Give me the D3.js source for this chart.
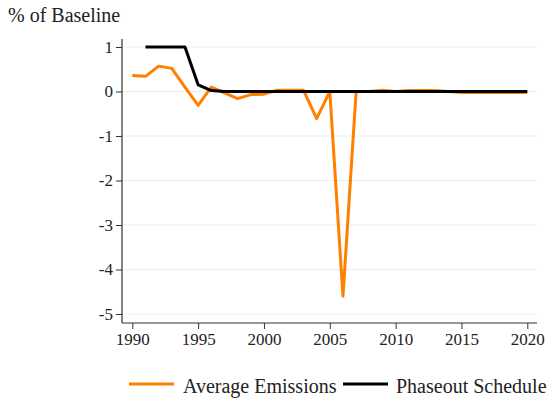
<!DOCTYPE html>
<html>
<head>
<meta charset="utf-8">
<script src="https://cdn.jsdelivr.net/npm/d3@7"></script>
</head>
<body style="margin:0;background:#fff">
<svg id="chart" width="553" height="403" font-family="'Liberation Serif', 'Times New Roman', serif"></svg>
<script>
// Years and series values (% of baseline)
const emissionYears = d3.range(1990, 2021);
const emissionValues = [
  0.36, 0.34, 0.57, 0.52, 0.10, -0.31, 0.10, -0.03, -0.16, -0.07,
  -0.06, 0.03, 0.03, 0.03, -0.61, 0.00, -4.60, 0.00, 0.00, 0.03,
  0.00, 0.02, 0.02, 0.02, 0.00, -0.02, -0.02, -0.02, -0.02, -0.02,
  -0.02
];
const scheduleYears = d3.range(1991, 2021);
const scheduleValues = [
  1, 1, 1, 1, 0.15, 0.02, 0, 0, 0, 0,
  0, 0, 0, 0, 0, 0, 0, 0, 0, 0,
  0, 0, 0, 0, 0, 0, 0, 0, 0, 0
];
const xTicks = [1990, 1995, 2000, 2005, 2010, 2015, 2020];
const yTicks = [1, 0, -1, -2, -3, -4, -5];
const seriesNames = ["Average Emissions", "Phaseout Schedule"];
const seriesColors = ["#ff8000", "#000000"];

const SERIF = "'Liberation Serif', 'Times New Roman', serif";
const textColor = "#222";

const svg = d3.select("#chart");
const plotLeft = 122, plotRight = 537, plotTop = 39, plotBottom = 323;

const x = d3.scaleLinear().domain([1990, 2020]).range([132.3, 527.3]);
const y = d3.scaleLinear().domain([1, -5]).range([47, 314]);

// Gridlines
svg.append("g")
  .selectAll("line")
  .data(yTicks)
  .join("line")
  .attr("x1", plotLeft).attr("x2", plotRight)
  .attr("y1", d => y(d)).attr("y2", d => y(d))
  .attr("stroke", "#e6eff0").attr("stroke-width", 1);

// Y axis
const yAxis = svg.append("g")
  .attr("transform", `translate(${plotLeft},0)`)
  .call(d3.axisLeft(y).tickValues(yTicks).tickSize(6).tickPadding(3)
    .tickFormat(d => d))
  .attr("font-family", SERIF)
  .attr("font-size", 17);
yAxis.select(".domain").remove();
yAxis.append("line").attr("x1", 0).attr("x2", 0).attr("y1", plotTop).attr("y2", plotBottom)
  .attr("stroke", "#333").attr("stroke-width", 1.2);
yAxis.selectAll(".tick line").attr("stroke", "#333");
yAxis.selectAll(".tick text").attr("fill", textColor);

// X axis
const xAxis = svg.append("g")
  .attr("transform", `translate(0,${plotBottom})`)
  .call(d3.axisBottom(x).tickValues(xTicks).tickSize(6).tickPadding(4)
    .tickFormat(d3.format("d")))
  .attr("font-family", SERIF)
  .attr("font-size", 17);
xAxis.select(".domain").remove();
xAxis.append("line").attr("x1", plotLeft).attr("x2", plotRight).attr("y1", 0).attr("y2", 0)
  .attr("stroke", "#333").attr("stroke-width", 1.2);
xAxis.selectAll(".tick line").attr("stroke", "#333");
xAxis.selectAll(".tick text").attr("fill", textColor);

// Series lines
const line = d3.line().x(d => x(d[0])).y(d => y(d[1]));
svg.append("path")
  .datum(d3.zip(emissionYears, emissionValues))
  .attr("d", line)
  .attr("fill", "none")
  .attr("stroke", seriesColors[0])
  .attr("stroke-width", 3)
  .attr("stroke-linejoin", "round");
svg.append("path")
  .datum(d3.zip(scheduleYears, scheduleValues))
  .attr("d", line)
  .attr("fill", "none")
  .attr("stroke", seriesColors[1])
  .attr("stroke-width", 3)
  .attr("stroke-linejoin", "round");

// Axis title
svg.append("text")
  .attr("x", 8).attr("y", 22)
  .attr("font-family", SERIF).attr("font-size", 20)
  .attr("fill", textColor)
  .text("% of Baseline");

// Legend
const legendItems = [
  { x1: 129, x2: 174, tx: 183 },
  { x1: 343, x2: 388, tx: 396 }
];
const legend = svg.append("g")
  .attr("font-family", SERIF).attr("font-size", 20);
legendItems.forEach((d, i) => {
  legend.append("line")
    .attr("x1", d.x1).attr("x2", d.x2)
    .attr("y1", 384).attr("y2", 384)
    .attr("stroke", seriesColors[i]).attr("stroke-width", 3);
  legend.append("text")
    .attr("x", d.tx).attr("y", 393)
    .attr("fill", textColor)
    .text(seriesNames[i]);
});
</script>
</body>
</html>
